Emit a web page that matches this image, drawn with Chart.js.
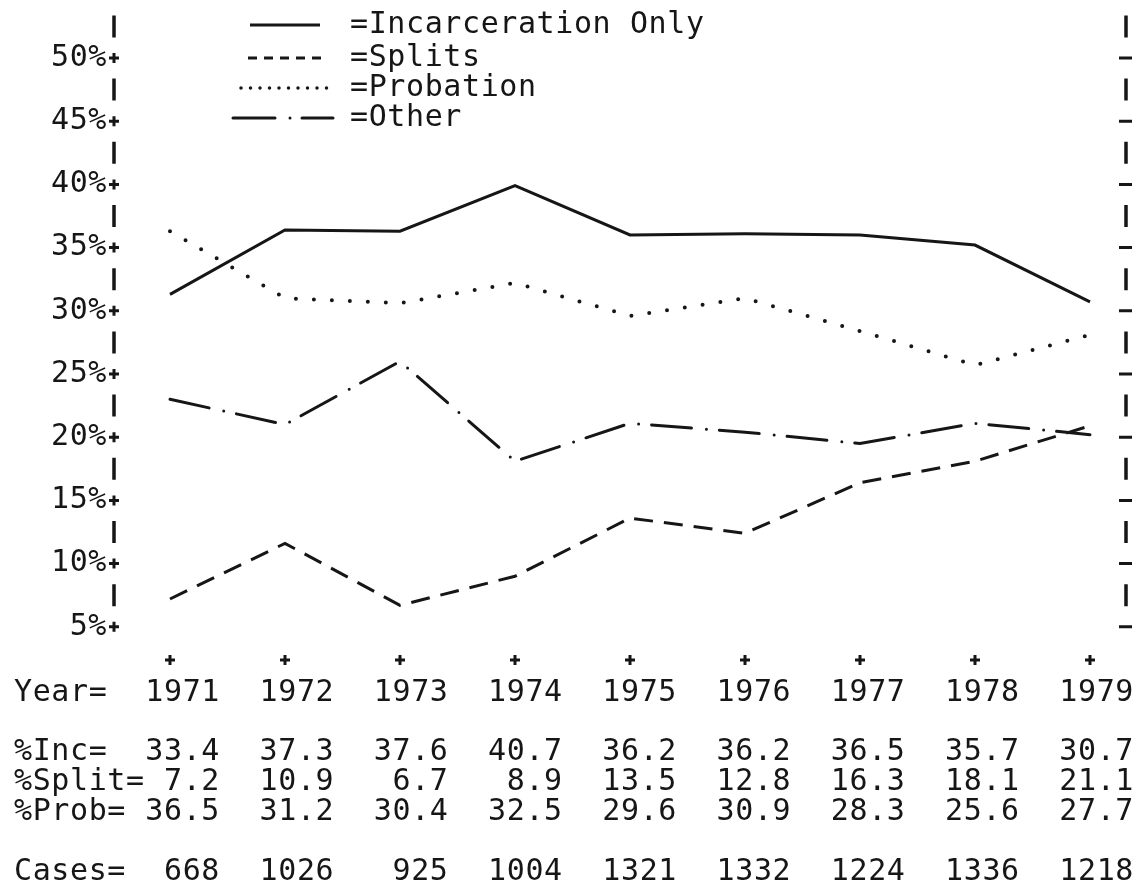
<!DOCTYPE html>
<html lang="en">
<head>
  <meta charset="UTF-8" />
  <title>Sentence types 1971-1979</title>
  <script src="https://cdn.jsdelivr.net/npm/chart.js"></script>
  <style>
    body {
      margin: 0;
      background: #ffffff;
    }
    canvas {
      display: block;
    }
  </style>
</head>
<body>
  <canvas id="lineChart" width="1143" height="893"></canvas>

  <script>
    // values as drawn on the plot
    const years = [1971, 1972, 1973, 1974, 1975, 1976, 1977, 1978, 1979];
    const incLine   = [31.3, 36.4, 36.3, 39.9, 36.0, 36.1, 36.0, 35.2, 30.7];
    const splitLine = [7.2, 11.6, 6.7, 9.0, 13.6, 12.4, 16.4, 18.1, 20.9];
    const probLine  = [36.3, 31.0, 30.6, 32.2, 29.6, 31.0, 28.4, 25.7, 28.1];
    const otherLine = [23.0, 21.0, 26.0, 18.1, 21.1, 20.4, 19.5, 21.1, 20.2];

    // printed table under the plot
    const incTable   = ['33.4', '37.3', '37.6', '40.7', '36.2', '36.2', '36.5', '35.7', '30.7'];
    const splitTable = ['7.2', '10.9', '6.7', '8.9', '13.5', '12.8', '16.3', '18.1', '21.1'];
    const probTable  = ['36.5', '31.2', '30.4', '32.5', '29.6', '30.9', '28.3', '25.6', '27.7'];
    const cases      = ['668', '1026', '925', '1004', '1321', '1332', '1224', '1336', '1218'];

    const yTicks = [50, 45, 40, 35, 30, 25, 20, 15, 10, 5];

    const legendItems = [
      { label: '=Incarceration Only', dash: [], cap: 'butt', width: 3, from: 250, to: 320 },
      { label: '=Splits', dash: [9, 7], cap: 'butt', width: 3, from: 248, to: 325 },
      { label: '=Probation', dash: [0, 9.5], cap: 'round', width: 3.5, from: 241, to: 333 },
      { label: '=Other', dash: [42, 15, 0, 12], cap: 'round', width: 3, from: 233, to: 333 }
    ];
    const legendRows = [25, 58, 88, 118];

    const INK = '#161616';
    const FONT = '30px "DejaVu Sans Mono", "Liberation Mono", monospace';

    const toPoints = arr => years.map((yr, i) => ({ x: yr, y: arr[i] }));

    const typewriter = {
      id: 'typewriter',
      afterDraw(chart) {
        const ctx = chart.ctx;
        const xs = chart.scales.x;
        const ys = chart.scales.y;
        const leftAxis = 114;
        const rightAxis = 1126;

        ctx.save();
        ctx.fillStyle = INK;
        ctx.strokeStyle = INK;
        ctx.font = FONT;
        ctx.letterSpacing = '0.6px';
        ctx.textBaseline = 'middle';

        // left axis: labels, + ticks, | between; right axis: - at ticks, | between
        yTicks.forEach(v => {
          const y = ys.getPixelForValue(v);
          ctx.textAlign = 'right';
          ctx.fillText(v + '%', leftAxis - 7, y);
          ctx.lineWidth = 3;
          ctx.beginPath();
          ctx.moveTo(leftAxis - 5, y); ctx.lineTo(leftAxis + 5, y);
          ctx.moveTo(leftAxis, y - 5); ctx.lineTo(leftAxis, y + 5);
          ctx.moveTo(rightAxis - 7, y); ctx.lineTo(rightAxis + 6, y);
          ctx.stroke();

          const yh = ys.getPixelForValue(v + 2.5);
          ctx.lineWidth = 3.5;
          ctx.beginPath();
          ctx.moveTo(leftAxis, yh - 11); ctx.lineTo(leftAxis, yh + 11);
          ctx.moveTo(rightAxis, yh - 11); ctx.lineTo(rightAxis, yh + 11);
          ctx.stroke();
        });

        // bottom + marks under each year
        const yPlus = 660;
        ctx.lineWidth = 3;
        years.forEach(yr => {
          const x = xs.getPixelForValue(yr);
          ctx.beginPath();
          ctx.moveTo(x - 5, yPlus); ctx.lineTo(x + 5, yPlus);
          ctx.moveTo(x, yPlus - 5); ctx.lineTo(x, yPlus + 5);
          ctx.stroke();
        });

        // legend
        legendItems.forEach((item, i) => {
          const y = legendRows[i];
          ctx.save();
          ctx.lineWidth = item.width;
          ctx.lineCap = item.cap;
          ctx.setLineDash(item.dash);
          ctx.beginPath();
          ctx.moveTo(item.from, y);
          ctx.lineTo(item.to, y);
          ctx.stroke();
          ctx.restore();
          ctx.textAlign = 'left';
          ctx.fillText(item.label, 350, y);
        });

        // table rows
        const rows = [
          { name: 'Year=', y: 693, vals: years.map(String) },
          { name: '%Inc=', y: 752, vals: incTable },
          { name: '%Split=', y: 782, vals: splitTable },
          { name: '%Prob=', y: 812, vals: probTable },
          { name: 'Cases=', y: 872, vals: cases }
        ];
        rows.forEach(r => {
          ctx.textAlign = 'left';
          ctx.fillText(r.name, 14, r.y);
          ctx.textAlign = 'right';
          r.vals.forEach((v, i) => {
            ctx.fillText(v, xs.getPixelForValue(years[i]) + 50 - 0.75 * i, r.y);
          });
        });

        ctx.restore();
      }
    };

    new Chart(document.getElementById('lineChart').getContext('2d'), {
      type: 'line',
      data: {
        datasets: [
          { label: 'Incarceration Only', data: toPoints(incLine), borderColor: INK, borderWidth: 3 },
          { label: 'Splits', data: toPoints(splitLine), borderColor: INK, borderWidth: 3, borderDash: [19, 11] },
          { label: 'Probation', data: toPoints(probLine), borderColor: INK, borderWidth: 4, borderDash: [0, 18], borderCapStyle: 'round' },
          { label: 'Other', data: toPoints(otherLine), borderColor: INK, borderWidth: 3, borderDash: [40, 15, 0, 13], borderCapStyle: 'round' }
        ]
      },
      options: {
        responsive: false,
        animation: false,
        layout: { padding: { left: 170, right: 53, top: 58, bottom: 203 } },
        elements: { point: { radius: 0 }, line: { tension: 0, fill: false } },
        datasets: { line: { clip: false } },
        scales: {
          x: { type: 'linear', min: 1971, max: 1979, display: false },
          y: { min: 0, max: 50, display: false }
        },
        plugins: { legend: { display: false }, tooltip: { enabled: false } }
      },
      plugins: [typewriter]
    });
  </script>
</body>
</html>
